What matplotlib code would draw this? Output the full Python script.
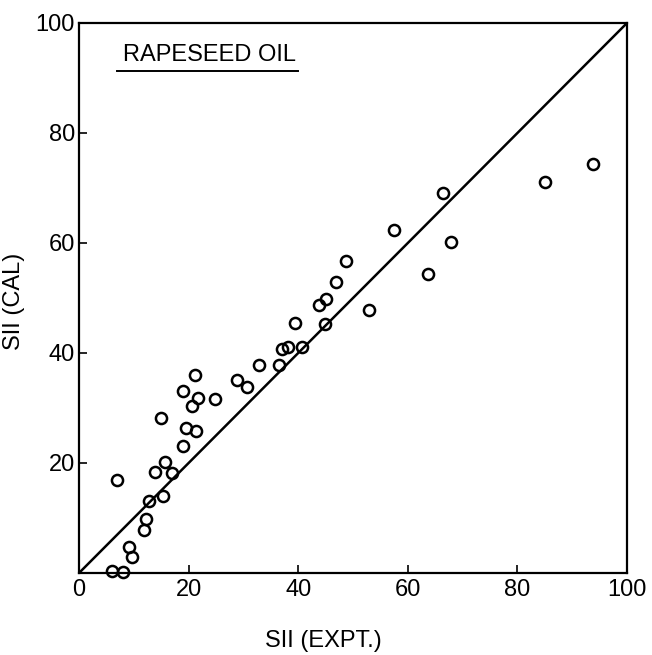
import matplotlib
matplotlib.use('Agg')
import matplotlib.pyplot as plt

# SII values
sii_expt = [6.1, 8.1, 9.1, 9.6, 7.0, 11.9, 12.2, 12.8, 15.4, 13.9, 15.7, 17.0,
            15.0, 18.9, 19.6, 21.4, 20.7, 21.7, 19.0, 21.2, 24.8, 28.9, 30.7,
            32.8, 36.5, 37.0, 38.2, 40.7, 39.5, 44.9, 43.7, 45.0, 46.9, 48.7,
            53.0, 57.5, 63.6, 66.4, 67.8, 85.0, 93.7]
sii_cal = [0.4, 0.2, 4.8, 2.9, 16.9, 7.9, 9.9, 13.0, 14.0, 18.3, 20.1, 18.1,
           28.2, 23.0, 26.3, 25.9, 30.4, 31.9, 33.1, 36.0, 31.6, 35.0, 33.9,
           37.9, 37.8, 40.8, 41.0, 41.0, 45.4, 45.3, 48.7, 49.9, 52.9, 56.7,
           47.8, 62.4, 54.4, 69.0, 60.2, 71.1, 74.3]
x_ticks = [0, 20, 40, 60, 80, 100]
y_ticks = [20, 40, 60, 80, 100]

plt.rcParams['font.family'] = ['Liberation Sans', 'DejaVu Sans']

fig = plt.figure(figsize=(6.52, 6.55), dpi=100)
ax = fig.add_axes([0.1212, 0.1252, 0.8405, 0.8397])

ax.plot([0, 100], [0, 100], color='black', lw=1.8)
ax.plot(sii_expt, sii_cal, 'o', mfc='none', mec='black', ms=8, mew=1.8,
        clip_on=False)

ax.set_xlim(0, 100)
ax.set_ylim(0, 100)
ax.set_xticks(x_ticks)
ax.set_yticks(y_ticks)
ax.tick_params(axis='x', direction='in', length=6, width=1.2, labelsize=17,
               pad=4)
ax.tick_params(axis='y', direction='in', length=6, width=1.2, labelsize=17,
               pad=3)
for sp in ax.spines.values():
    sp.set_linewidth(1.6)

ax.set_xlabel('SII (EXPT.)', fontsize=17)
ax.xaxis.set_label_coords(0.445, -0.104)
ax.set_ylabel('SII (CAL)', fontsize=17)
ax.yaxis.set_label_coords(-0.0985, 0.493)

title = ax.text(8.0, 94.2, 'RAPESEED OIL', fontsize=17, va='center',
                ha='left')
fig.canvas.draw()
bb = title.get_window_extent().transformed(ax.transAxes.inverted())
ax.plot([bb.x0 - 0.01, bb.x1 + 0.004], [bb.y0 - 0.01, bb.y0 - 0.01],
        color='black', lw=1.4, transform=ax.transAxes)

fig.savefig('out.png', dpi=100)
